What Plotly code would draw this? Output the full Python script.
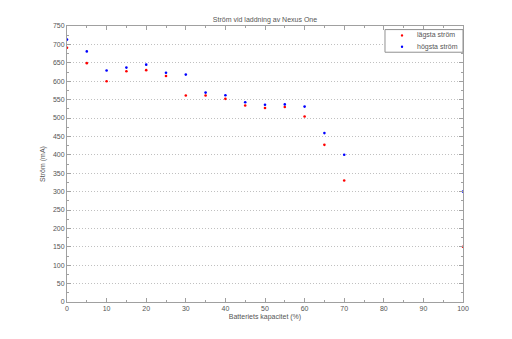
import plotly.graph_objects as go

# Battery level (%) and measured charging current (mA)
kapacitet = [0, 5, 10, 15, 20, 25, 30, 35, 40, 45, 50, 55, 60, 65, 70, 100]
lagsta = [691, 649, 600, 627, 630, 614, 561, 561, 552, 534, 527, 530, 504, 427, 330, 150]
hogsta = [713, 681, 629, 637, 645, 623, 618, 569, 562, 543, 536, 537, 531, 459, 400, 300]

serie_namn = ["lägsta ström", "högsta ström"]
serie_farg = ["#ff0000", "#0000ff"]

x_ticks = list(range(0, 101, 10))
y_ticks = list(range(0, 751, 50))

font_fam = "Liberation Sans, Arial, sans-serif"
txt = "#555555"
line_col = "#a0a0a0"

fig = go.Figure()
for namn, farg, varden in zip(serie_namn, serie_farg, [lagsta, hogsta]):
    fig.add_trace(go.Scatter(x=kapacitet, y=varden, mode="markers", name=namn,
                             marker=dict(color=farg, size=2.6), showlegend=False))

axis_common = dict(
    showline=True, linecolor=line_col, linewidth=1, mirror="ticks",
    ticks="inside", ticklen=4, tickcolor=line_col,
    tickfont=dict(size=7, color=txt, family=font_fam),
    zeroline=False,
)

fig.update_xaxes(
    range=[0, 100], tickvals=x_ticks, showgrid=False,
    minor=dict(ticks="inside", dtick=5, ticklen=2, tickcolor=line_col),
    title=dict(text="Batteriets kapacitet (%)", font=dict(size=7, color=txt, family=font_fam), standoff=2),
    **axis_common,
)
fig.update_yaxes(
    range=[0, 750], tickvals=y_ticks, showgrid=True, gridcolor="#c0c0c0",
    griddash="1px,2px", gridwidth=1,
    minor=dict(ticks="inside", dtick=25, ticklen=2, tickcolor=line_col),
    title=dict(text="Ström (mA)", font=dict(size=7, color=txt, family=font_fam), standoff=6),
    **axis_common,
)

# Compact boxed legend in the upper-right corner of the axes
leg_x0, leg_x1, leg_y0, leg_y1 = 0.803, 1.0, 0.905, 0.987
rad_y = [0.966, 0.925]
dot_x, txt_x = 0.846, 0.878
fig.add_shape(type="rect", xref="paper", yref="paper",
              x0=leg_x0, x1=leg_x1, y0=leg_y0, y1=leg_y1,
              line=dict(color="#909090", width=1), fillcolor="white", layer="above")
for namn, farg, ry in zip(serie_namn, serie_farg, rad_y):
    fig.add_shape(type="circle", xref="paper", yref="paper",
                  xsizemode="pixel", ysizemode="pixel", xanchor=dot_x, yanchor=ry,
                  x0=-1.2, x1=1.2, y0=-1.2, y1=1.2,
                  line=dict(width=0), fillcolor=farg, layer="above")
    fig.add_annotation(xref="paper", yref="paper", x=txt_x, y=ry, xanchor="left",
                       yanchor="middle", text=namn, showarrow=False,
                       font=dict(size=7, color=txt, family=font_fam))

fig.update_layout(
    width=512, height=339,
    margin=dict(l=67, r=49, t=26, b=37),
    paper_bgcolor="white", plot_bgcolor="white",
    title=dict(text="Ström vid laddning av Nexus One", x=0.5, xref="paper",
               y=1, yref="paper", yanchor="bottom", pad=dict(b=4),
               font=dict(size=7, color=txt, family=font_fam)),
    showlegend=False,
)

fig.write_html("out.html")
